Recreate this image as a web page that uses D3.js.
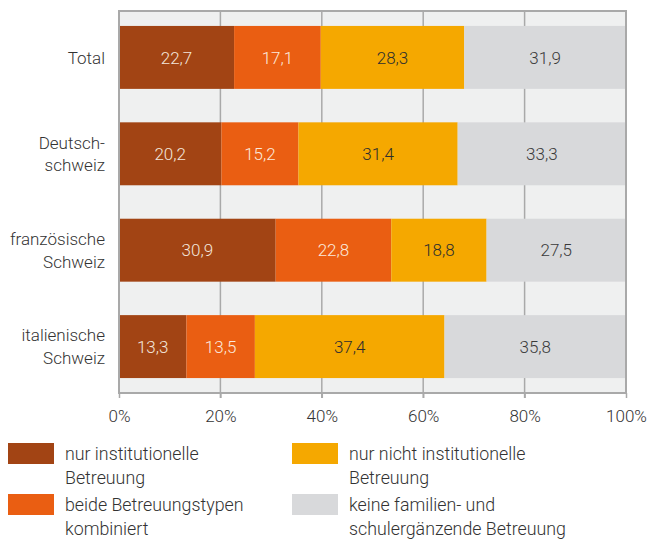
<!DOCTYPE html>
<html>
<head>
<meta charset="utf-8">
<script src="https://cdn.jsdelivr.net/npm/d3@7"></script>
<style>
  body { margin: 0; background: #fff; }
  text { font-family: Roboto, "Noto Sans", sans-serif; font-weight: 300; }
</style>
</head>
<body>
<script>
var regions = ['Total', 'Deutsch-\nschweiz', 'französische\nSchweiz', 'italienische\nSchweiz'];
var seriesNames = ['nur institutionelle\nBetreuung', 'beide Betreuungstypen\nkombiniert', 'nur nicht institutionelle\nBetreuung', 'keine familien- und\nschulergänzende Betreuung'];
var nurInstitutionell = [22.7, 20.2, 30.9, 13.3];
var beideKombiniert = [17.1, 15.2, 22.8, 13.5];
var nurNichtInstitutionell = [28.3, 31.4, 18.8, 37.4];
var keineBetreuung = [31.9, 33.3, 27.5, 35.8];
var xTicks = [0, 20, 40, 60, 80, 100];

var colors = ['#a24414', '#ea5e12', '#f5a800', '#d8d9db'];
var textColors = ['#f3e6dc', '#fbe9dc', '#2e2e2e', '#3a3a3a'];
var series = [nurInstitutionell, beideKombiniert, nurNichtInstitutionell, keineBetreuung];

var width = 650, height = 541;
var plotLeft = 119, plotRight = 626, plotTop = 11, plotBottom = 393;

var svg = d3.select("body").append("svg").attr("width", width).attr("height", height);

var x = d3.scaleLinear().domain([0, 100]).range([plotLeft, plotRight]);
var y = d3.scaleBand().domain(regions).range([plotTop, plotBottom])
      .paddingInner(0.347).paddingOuter(0.155);

// hintergrund
svg.append("rect")
      .attr("x", plotLeft).attr("y", plotTop)
      .attr("width", plotRight - plotLeft).attr("height", plotBottom - plotTop)
      .attr("fill", "#eff0f0");

// gitterlinien
svg.selectAll("line.grid")
      .data(xTicks.slice(1, -1))
      .enter().append("line")
      .attr("class", "grid")
      .attr("x1", function (d) { return x(d); })
      .attr("x2", function (d) { return x(d); })
      .attr("y1", plotTop).attr("y2", plotBottom + 5)
      .attr("stroke", "#a9a9a9").attr("stroke-width", 1.5);

// gestapelte daten
var stack = regions.map(function (r, i) {
  var acc = 0;
  return series.map(function (s, k) {
    var seg = { region: r, k: k, v: s[i], x0: acc, x1: acc + s[i] };
    acc += s[i];
    return seg;
  });
});

var rows = svg.selectAll("g.row")
      .data(stack)
      .enter().append("g")
      .attr("class", "row");

rows.selectAll("rect")
      .data(function (d) { return d; })
      .enter().append("rect")
      .attr("x", function (d) { return x(d.x0); })
      .attr("width", function (d) { return x(Math.min(d.x1, 100)) - x(d.x0); })
      .attr("y", function (d) { return y(d.region); })
      .attr("height", y.bandwidth())
      .attr("fill", function (d) { return colors[d.k]; });

rows.selectAll("text")
      .data(function (d) { return d; })
      .enter().append("text")
      .attr("x", function (d) { return x((d.x0 + Math.min(d.x1, 100)) / 2); })
      .attr("y", function (d) { return y(d.region) + y.bandwidth() / 2; })
      .attr("dy", "0.36em")
      .attr("text-anchor", "middle")
      .attr("font-size", 17)
      .attr("fill", function (d) { return textColors[d.k]; })
      .text(function (d) { return d.v.toFixed(1).replace('.', ','); });

// rahmen
svg.append("rect")
      .attr("x", plotLeft).attr("y", plotTop)
      .attr("width", plotRight - plotLeft).attr("height", plotBottom - plotTop)
      .attr("fill", "none").attr("stroke", "#a9a9a9").attr("stroke-width", 2);

// x-achse
var xAxis = d3.axisBottom(x).tickValues(xTicks)
      .tickFormat(function (d) { return d + "%"; })
      .tickSize(5).tickPadding(12);

var gx = svg.append("g")
      .attr("transform", "translate(0," + plotBottom + ")")
      .call(xAxis);
gx.select(".domain").remove();
gx.selectAll("line").attr("stroke", "#a9a9a9").attr("stroke-width", 1.5);
gx.selectAll("text")
      .attr("font-size", 17)
      .attr("fill", "#333")
      .style("font-family", "Roboto, sans-serif").style("font-weight", 300);

// kategorien
var cat = svg.selectAll("text.cat")
      .data(regions)
      .enter().append("text")
      .attr("class", "cat")
      .attr("text-anchor", "end")
      .attr("font-size", 17)
      .attr("fill", "#333");

cat.each(function (d) {
  var lines = d.split('\n');
  var cy = y(d) + y.bandwidth() / 2;
  var lh = 22.5;
  d3.select(this).selectAll("tspan")
        .data(lines)
        .enter().append("tspan")
        .attr("x", 105)
        .attr("y", function (l, i) { return cy + (i - (lines.length - 1) / 2) * lh; })
        .attr("dy", "0.36em")
        .text(function (l) { return l; });
});

// legende
var legPos = [[8, 443], [8, 494], [292, 443], [292, 494]];

var leg = svg.selectAll("g.legend")
      .data(seriesNames)
      .enter().append("g")
      .attr("class", "legend")
      .attr("transform", function (d, i) { return "translate(" + legPos[i][0] + "," + legPos[i][1] + ")"; });

leg.append("rect")
      .attr("width", 46).attr("height", 21)
      .attr("fill", function (d, i) { return colors[i]; });

leg.append("text")
      .attr("font-size", 17.8)
      .attr("fill", "#333")
      .selectAll("tspan")
      .data(function (d) { return d.split('\n'); })
      .enter().append("tspan")
      .attr("x", 57)
      .attr("y", function (l, i) { return 17 + i * 23.5; })
      .text(function (l) { return l; });
</script>
</body>
</html>
